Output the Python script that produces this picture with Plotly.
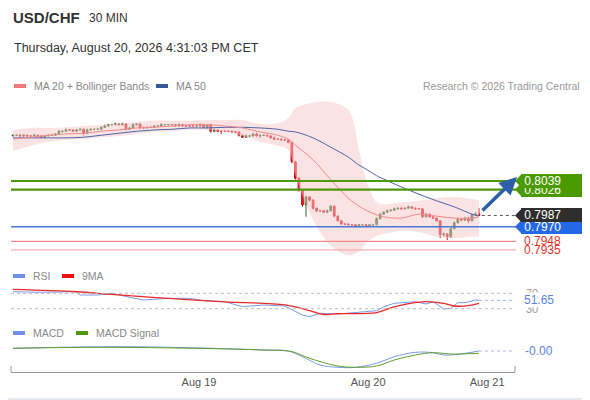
import plotly.graph_objects as go

# USD/CHF 30 min candles, oldest first (close prices)
close = [
    0.8108, 0.8108, 0.8107, 0.8108, 0.8107, 0.8107, 0.8108, 0.8107, 0.8105, 0.8107,
    0.8108, 0.8108, 0.8110, 0.8114, 0.8114, 0.8116, 0.8116, 0.8114, 0.8116, 0.8117,
    0.8111, 0.8116, 0.8117, 0.8117, 0.8117, 0.8120, 0.8122, 0.8124, 0.8124, 0.8125,
    0.8124, 0.8125, 0.8117, 0.8119, 0.8124, 0.8125, 0.8119, 0.8119, 0.8120, 0.8120,
    0.8122, 0.8122, 0.8124, 0.8124, 0.8124, 0.8124, 0.8122, 0.8124, 0.8122, 0.8122,
    0.8122, 0.8122, 0.8122, 0.8124, 0.8120, 0.8124, 0.8114, 0.8116, 0.8114, 0.8114,
    0.8114, 0.8114, 0.8113, 0.8113, 0.8108, 0.8105, 0.8107, 0.8107, 0.8110, 0.8107,
    0.8108, 0.8108, 0.8107, 0.8104, 0.8102, 0.8102, 0.8101, 0.8101, 0.8097, 0.8068,
    0.8043, 0.8025, 0.8003, 0.8015, 0.8010, 0.7998, 0.7994, 0.7994, 0.7992, 0.7994,
    0.8001, 0.7986, 0.7979, 0.7974, 0.7974, 0.7973, 0.7973, 0.7971, 0.7973, 0.7973,
    0.7971, 0.7973, 0.7973, 0.7982, 0.7989, 0.7992, 0.7994, 0.7995, 0.7997, 0.7998,
    0.7997, 0.7998, 0.8000, 0.7998, 0.7997, 0.7997, 0.7985, 0.7989, 0.7985, 0.7983,
    0.7979, 0.7958, 0.7959, 0.7955, 0.7967, 0.7976, 0.7982, 0.7980, 0.7983, 0.7979,
    0.7988, 0.7989, 0.7987,
]
first_open = 0.8107
# wick lengths in pips above / below the body
wick_up = [
    1, 1, 2, 1, 1, 1, 2, 1, 1, 1,
    1, 1, 1, 2, 1, 2, 1, 1, 1, 1,
    1, 2, 1, 1, 2, 1, 2, 1, 1, 2,
    1, 2, 1, 1, 2, 1, 1, 2, 1, 1,
    1, 1, 2, 1, 1, 1, 1, 2, 1, 1,
    1, 1, 1, 2, 1, 1, 1, 2, 1, 1,
    1, 1, 1, 2, 1, 1, 2, 1, 1, 2,
    1, 1, 1, 1, 2, 1, 1, 1, 1, 2,
    1, 2, 1, 2, 1, 2, 1, 1, 1, 2,
    2, 1, 1, 1, 1, 1, 1, 1, 1, 1,
    1, 1, 1, 2, 2, 1, 2, 1, 2, 1,
    2, 1, 2, 1, 1, 1, 1, 2, 1, 1,
    1, 1, 2, 1, 2, 2, 2, 1, 2, 2,
    2, 3, 9,
]
wick_dn = [
    1, 1, 1, 2, 1, 1, 1, 1, 1, 1,
    1, 1, 1, 1, 2, 1, 1, 1, 1, 1,
    3, 1, 1, 1, 1, 1, 1, 1, 1, 1,
    1, 1, 2, 1, 1, 1, 1, 1, 1, 1,
    1, 1, 1, 1, 1, 1, 1, 1, 1, 1,
    1, 1, 1, 1, 1, 2, 2, 1, 1, 4,
    1, 1, 1, 1, 2, 1, 1, 2, 1, 1,
    3, 1, 1, 1, 1, 1, 1, 1, 1, 2,
    2, 2, 3, 18, 2, 2, 2, 1, 1, 1,
    1, 2, 1, 1, 1, 1, 2, 1, 1, 1,
    1, 1, 1, 1, 1, 1, 1, 1, 1, 1,
    1, 1, 1, 1, 1, 1, 2, 1, 1, 1,
    1, 5, 3, 5, 2, 1, 1, 2, 1, 3,
    1, 1, 1,
]

# indicator readings at selected candles
ind_idx = [0, 5, 10, 15, 20, 25, 30, 35, 40, 45, 50, 55, 60, 65, 70, 75, 78, 80,
           85, 90, 95, 98, 100, 103, 105, 110, 115, 120, 125, 130, 132]
ma20 = [0.8102, 0.8105, 0.8108, 0.8110, 0.8111, 0.8114, 0.8116, 0.8119, 0.8120, 0.8122,
        0.8124, 0.8124, 0.8122, 0.8119, 0.8113, 0.8108, 0.8102, 0.8093, 0.8071, 0.8041,
        0.8013, 0.8001, 0.7995, 0.7988, 0.7985, 0.7983, 0.7989, 0.7986, 0.7983, 0.7983, 0.7985]
ma50 = [0.8104, 0.8104, 0.8104, 0.8104, 0.8105, 0.8108, 0.8111, 0.8114, 0.8116, 0.8117,
        0.8119, 0.8119, 0.8120, 0.8120, 0.8119, 0.8117, 0.8114, 0.8113, 0.8104, 0.8090,
        0.8075, 0.8063, 0.8057, 0.8047, 0.8042, 0.8030, 0.8019, 0.8009, 0.8000, 0.7989, 0.7986]
bb_upper = [0.8116, 0.8119, 0.8119, 0.8120, 0.8122, 0.8124, 0.8126, 0.8128, 0.8130, 0.8130,
            0.8130, 0.8131, 0.8131, 0.8131, 0.8125, 0.8126, 0.8134, 0.8149, 0.8157, 0.8158,
            0.8146, 0.8086, 0.8041, 0.8007, 0.8004, 0.8007, 0.8009, 0.8013, 0.8015, 0.8012, 0.8010]
bb_lower = [0.8084, 0.8092, 0.8098, 0.8101, 0.8102, 0.8105, 0.8107, 0.8110, 0.8113, 0.8114,
            0.8116, 0.8116, 0.8113, 0.8107, 0.8098, 0.8092, 0.8086, 0.8048, 0.7980, 0.7942,
            0.7927, 0.7933, 0.7946, 0.7956, 0.7959, 0.7964, 0.7962, 0.7955, 0.7953, 0.7955, 0.7955]

rsi_idx = [0, 7, 18, 19, 24, 28, 33, 37, 44, 50, 54, 60, 65, 71, 77, 82, 84, 87, 92, 97,
           103, 105, 108, 114, 117, 119, 122, 124, 126, 128, 131, 132]
rsi = [74.2, 72.6, 74.0, 65.6, 65.6, 70.0, 59.6, 52.6, 57.0, 57.0, 50.8, 48.2, 35.2, 39.6,
       37.0, 13.6, 9.2, 18.0, 16.2, 19.6, 24.8, 35.2, 44.0, 48.2, 42.2, 48.2, 29.2, 31.0,
       45.6, 45.6, 52.6, 51.65]
rsi_ma_idx = [0, 18, 28, 44, 60, 77, 84, 88, 92, 103, 108, 116, 122, 125, 129, 132]
rsi_ma = [80, 74, 67, 57, 48, 40, 25, 15, 17, 20, 35, 48, 44, 37, 38, 44]

macd_idx = [0, 28, 50, 71, 78, 82, 87, 92, 97, 103, 108, 114, 119, 122, 126, 132]
macd = [0.00024, 0.0004, 0.0003, 0.00007, -0.00003, -0.0006, -0.00143, -0.00166, -0.00166,
        -0.00126, -0.0006, -0.00016, -0.0002, -0.00043, -0.00036, -0.00003]
signal_idx = [0, 28, 71, 79, 84, 92, 97, 103, 108, 114, 119, 124, 132]
signal = [0.00024, 0.00034, 0.00007, -0.0001, -0.00076, -0.00153, -0.00166, -0.00153,
          -0.00093, -0.00043, -0.0002, -0.00033, -0.00026]

resistances = [0.8026, 0.8039]
pivot = 0.7970
supports = [0.7948, 0.7935]

tick_pos = [52.7, 100.6, 134.3]
tick_txt = ["Aug 19", "Aug 20", "Aug 21"]

# the page body has an 8px margin, so the figure is 8px smaller than the window
OFF = 8
W, H = 590 - OFF, 400 - OFF
FONT = "Liberation Sans, Arial, sans-serif"


def px(x):
    return (x - OFF) / W


def py(y):
    return 1 - (y - OFF) / H


opens = [first_open] + close[:-1]
highs = [max(o, c) + u / 10000 for o, c, u in zip(opens, close, wick_up)]
lows = [min(o, c) - d / 10000 for o, c, d in zip(opens, close, wick_dn)]
idx = list(range(len(close)))
xr = [-0.567, 142.2]

fig = go.Figure()

# bollinger band + MAs
fig.add_trace(go.Scatter(x=ind_idx, y=bb_upper, mode="lines", line=dict(width=0, shape="spline"),
                         showlegend=False, hoverinfo="skip"))
fig.add_trace(go.Scatter(x=ind_idx, y=bb_lower, mode="lines", line=dict(width=0, shape="spline"),
                         fill="tonexty", fillcolor="rgba(250,200,200,0.5)", showlegend=False,
                         hoverinfo="skip"))
fig.add_trace(go.Scatter(x=ind_idx, y=ma50, mode="lines", line=dict(color="#4a64a8", width=1, shape="spline"),
                         showlegend=False))
fig.add_trace(go.Scatter(x=ind_idx, y=ma20, mode="lines", line=dict(color="#f28a8a", width=1, shape="spline"),
                         showlegend=False))

fig.add_trace(go.Candlestick(
    x=idx, open=opens, high=highs, low=lows, close=close,
    increasing=dict(line=dict(color="#2a6428", width=1), fillcolor="#357332"),
    decreasing=dict(line=dict(color="#d0101a", width=1), fillcolor="#e01a22"),
    showlegend=False,
))

# RSI
fig.add_trace(go.Scatter(x=rsi_idx, y=rsi, mode="lines", line=dict(color="#7b9be6", width=1),
                         xaxis="x2", yaxis="y2", showlegend=False))
fig.add_trace(go.Scatter(x=rsi_ma_idx, y=rsi_ma, mode="lines", line=dict(color="#ec2a2a", width=1.3, shape="spline"),
                         xaxis="x2", yaxis="y2", showlegend=False))

# MACD
fig.add_trace(go.Scatter(x=macd_idx, y=macd, mode="lines", line=dict(color="#7b9be6", width=1, shape="spline"),
                         xaxis="x3", yaxis="y3", showlegend=False))
fig.add_trace(go.Scatter(x=signal_idx, y=signal, mode="lines", line=dict(color="#5fa02a", width=1, shape="spline"),
                         xaxis="x3", yaxis="y3", showlegend=False))

shapes = []
ann = []

# right / bottom border
shapes.append(dict(type="line", xref="paper", yref="paper", x0=px(589), x1=px(589), y0=0, y1=1,
                   line=dict(color="#e4e9ef", width=2)))
shapes.append(dict(type="line", xref="paper", yref="paper", x0=0, x1=1, y0=py(399), y1=py(399),
                   line=dict(color="#e4e9ef", width=2)))

# level lines
for v in resistances:
    shapes.append(dict(type="line", xref="paper", yref="y", x0=px(11), x1=px(516), y0=v, y1=v,
                       line=dict(color="#4f9a0c", width=2.2)))
shapes.append(dict(type="line", xref="paper", yref="y", x0=px(11), x1=px(516), y0=pivot, y1=pivot,
                   line=dict(color="#4a78d8", width=1.5)))
for v, c in zip(supports, ["#f28a8a", "#f6b0b0"]):
    shapes.append(dict(type="line", xref="paper", yref="y", x0=px(11), x1=px(516), y0=v, y1=v,
                       line=dict(color=c, width=1.3)))
shapes.append(dict(type="line", xref="x", yref="y", x0=idx[-1] + 0.8, x1=xr[1], y0=close[-1], y1=close[-1],
                   line=dict(color="#555", width=1, dash="dot")))

# rsi / macd reference lines
for v in [70, 30]:
    shapes.append(dict(type="line", xref="paper", yref="y2", x0=px(11), x1=px(515), y0=v, y1=v,
                       line=dict(color="#bbb", width=1, dash="dot")))
shapes.append(dict(type="line", xref="x2", yref="y2", x0=rsi_idx[-1], x1=xr[1], y0=rsi[-1], y1=rsi[-1],
                   line=dict(color="#9db3ea", width=1, dash="dot")))
shapes.append(dict(type="line", xref="x3", yref="y3", x0=macd_idx[-1], x1=xr[1], y0=macd[-1], y1=macd[-1],
                   line=dict(color="#aab8d6", width=1, dash="dot")))

# axis end ticks
for xx in [11, 515]:
    shapes.append(dict(type="line", xref="paper", yref="paper", x0=px(xx), x1=px(xx), y0=py(366), y1=py(372),
                       line=dict(color="#999", width=1)))


def price_label(v, bg, txt):
    h = 0.0011
    shapes.append(dict(type="path", xref="paper", yref="y",
                       path=f"M {px(515)},{v} L {px(522)},{v + h} L {px(522)},{v - h} Z",
                       fillcolor=bg, line=dict(width=0)))
    ann.append(dict(xref="paper", yref="y", x=px(521), y=v, xanchor="left", yanchor="middle",
                    text="&nbsp;" + txt + "&nbsp;" * 7, showarrow=False, bgcolor=bg,
                    borderpad=0, borderwidth=0, font=dict(family=FONT, size=12, color="white")))


for v, c in zip(supports, ["#e8312a", "#e8312a"]):
    ann.append(dict(xref="paper", yref="y", x=px(522), y=v, xanchor="left", yanchor="middle",
                    text=f"{v:.4f}", showarrow=False, font=dict(family=FONT, size=12, color=c)))
price_label(pivot, "#2468e6", f"{pivot:.4f}")
price_label(close[-1], "#2e2e2e", f"{close[-1]:.4f}")
for v in resistances:
    price_label(v, "#4a9a00", f"{v:.4f}")

# rsi / macd value labels
for v in [70, 30]:
    ann.append(dict(xref="paper", yref="y2", x=px(524), y=v, xanchor="left", yanchor="middle",
                    text=str(v), showarrow=False, font=dict(family=FONT, size=11, color="#999")))
ann.append(dict(xref="paper", yref="y2", x=px(523), y=rsi[-1], xanchor="left", yanchor="middle",
                text=f"{rsi[-1]:.2f}", showarrow=False, bgcolor="white", borderpad=0,
                font=dict(family=FONT, size=12, color="#5b84e0")))
ann.append(dict(xref="paper", yref="y3", x=px(523), y=macd[-1], xanchor="left", yanchor="middle",
                text=f"{macd[-1]:.2f}", showarrow=False,
                font=dict(family=FONT, size=12, color="#5b84e0")))

# forecast arrow
ann.append(dict(xref="paper", yref="paper", x=px(517), y=py(177), ax=-36, ay=35, text="",
                showarrow=True, arrowhead=2, arrowsize=1, arrowwidth=3.5, arrowcolor="#2c5fa8"))

# header texts
ann.append(dict(xref="paper", yref="paper", x=px(11), y=py(18), xanchor="left", yanchor="middle",
                text="<b>USD/CHF</b>", showarrow=False, font=dict(family=FONT, size=15, color="#333")))
ann.append(dict(xref="paper", yref="paper", x=px(87), y=py(18), xanchor="left", yanchor="middle",
                text="30 MIN", showarrow=False, font=dict(family=FONT, size=12, color="#333")))
ann.append(dict(xref="paper", yref="paper", x=px(12), y=py(48), xanchor="left", yanchor="middle",
                text="Thursday, August 20, 2026 4:31:03 PM CET", showarrow=False,
                font=dict(family=FONT, size=12.5, color="#333")))
ann.append(dict(xref="paper", yref="paper", x=px(582), y=py(86), xanchor="right", yanchor="middle",
                text="Research © 2026 Trading Central", showarrow=False,
                font=dict(family=FONT, size=10.5, color="#999")))


def legend_item(x, y, color, label):
    shapes.append(dict(type="rect", xref="paper", yref="paper", x0=px(x), x1=px(x + 12),
                       y0=py(y + 2), y1=py(y - 2), fillcolor=color, line=dict(width=0)))
    ann.append(dict(xref="paper", yref="paper", x=px(x + 18), y=py(y), xanchor="left", yanchor="middle",
                    text=label, showarrow=False, font=dict(family=FONT, size=10.5, color="#888")))


legend_item(14, 86, "#f47a7a", "MA 20 + Bollinger Bands")
legend_item(156, 86, "#34589a", "MA 50")
legend_item(13, 276, "#6f92e6", "RSI")
legend_item(62, 276, "#ee1111", "9MA")
legend_item(13, 333, "#6f92e6", "MACD")
legend_item(76, 333, "#4f9a0c", "MACD Signal")

hidden = dict(visible=False, showgrid=False, zeroline=False)
fig.update_layout(
    width=W, height=H,
    margin=dict(l=0, r=0, t=0, b=0),
    paper_bgcolor="white", plot_bgcolor="white",
    showlegend=False,
    font=dict(family=FONT),
    xaxis=dict(domain=[px(11), px(515)], range=xr, anchor="y", rangeslider=dict(visible=False), **hidden),
    yaxis=dict(domain=[py(262), py(95)], range=[0.79168, 0.81687], anchor="x", **hidden),
    xaxis2=dict(domain=[px(11), px(515)], range=xr, anchor="y2", matches="x", **hidden),
    yaxis2=dict(domain=[py(320), py(285)], range=[0.65, 91.6], anchor="x2", **hidden),
    xaxis3=dict(domain=[px(11), px(515)], range=xr, anchor="y3", matches="x",
                showgrid=False, zeroline=False, showline=True, linecolor="#999", linewidth=1,
                tickvals=tick_pos, ticktext=tick_txt, ticks="", tickfont=dict(size=11, color="#555")),
    yaxis3=dict(domain=[py(372), py(340)], range=[-0.00213, 0.00107], anchor="x3", **hidden),
    shapes=shapes,
    annotations=ann,
)

fig.write_html("out.html")
